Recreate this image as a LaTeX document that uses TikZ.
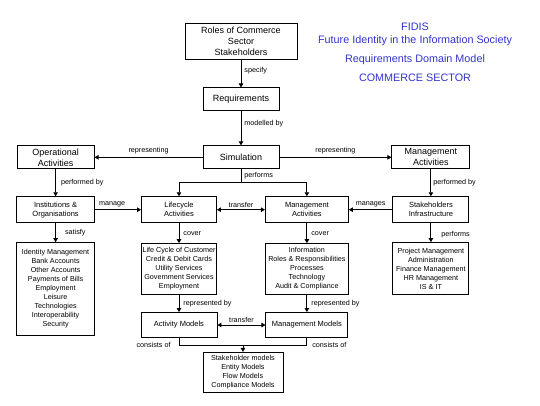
\documentclass[tikz,border=0pt]{standalone}
\usepackage{fontspec}
\setmainfont{Liberation Sans}
\setsansfont{Liberation Sans}
\usetikzlibrary{arrows.meta, positioning, calc}
\definecolor{cTitle}{HTML}{3333CC}
\definecolor{cLine}{HTML}{000000}
\tikzset{
  box/.style={draw=cLine, line width=0.9pt, align=center, inner sep=1pt},
  topbox/.style={box, font=\fontsize{9}{11}\selectfont, minimum height=23pt},
  midbox/.style={box, font=\fontsize{7.5}{9}\selectfont, minimum height=26pt},
  listbox/.style={box, font=\fontsize{7.2}{9}\selectfont},
  modelbox/.style={box, font=\fontsize{7.5}{9}\selectfont, minimum height=25pt},
  flow/.style={-{Triangle[length=4pt, width=4.5pt]}, line width=0.9pt, draw=cLine},
  biflow/.style={{Triangle[length=4pt, width=4.5pt]}-{Triangle[length=4pt, width=4.5pt]},
    line width=0.9pt, draw=cLine},
  plain/.style={line width=0.9pt, draw=cLine},
  lbl/.style={font=\fontsize{7.2}{9}\selectfont, inner sep=1pt},
  titletext/.style={font=\fontsize{10.8}{13}\selectfont, text=cTitle, align=center,
    inner sep=0pt},
}

\begin{document}
\begin{tikzpicture}
  \useasboundingbox (0,0) rectangle (540pt,-405pt);

  % ----------------------------------------------------------------
  % Top column: stakeholders, requirements, simulation
  % ----------------------------------------------------------------
  \node[topbox, minimum width=112pt, minimum height=36pt] (roles) at (241pt,-41pt)
    {Roles of Commerce\\ Sector\\ Stakeholders};
  \node[topbox, minimum width=76pt, below=28pt of roles] (req) {Requirements};
  \node[topbox, minimum width=76pt, below=34pt of req] (sim) {Simulation};

  \draw[flow] (roles) -- (req) node[lbl, pos=0.4, right=2pt] {specify};
  \draw[flow] (req) -- (sim) node[lbl, pos=0.35, right=2pt] {modelled by};

  % ----------------------------------------------------------------
  % Operational / management activities
  % ----------------------------------------------------------------
  \node[topbox, minimum width=77pt, left=108pt of sim] (oper) {Operational\\ Activities};
  \node[topbox, minimum width=78pt, right=112pt of sim] (mact) {Management\\ Activities};

  \draw[flow] (sim) -- (oper) node[lbl, midway, above=2pt] {representing};
  \draw[flow] (sim) -- (mact) node[lbl, midway, above=2pt] {representing};

  % ----------------------------------------------------------------
  % Middle row
  % ----------------------------------------------------------------
  \node[midbox, minimum width=78pt, below=27pt of oper] (inst) {Institutions \&\\ Organisations};
  \node[midbox, minimum width=75pt, right=46pt of inst] (life) {Lifecycle\\ Activities};
  \node[midbox, minimum width=83pt, right=48pt of life] (mgmt) {Management\\ Activities};
  \node[midbox, minimum width=76pt, below=27pt of mact] (stake) {Stakeholders\\ Infrastructure};

  \draw[flow] (oper) -- (inst) node[lbl, midway, right=4pt] {performed by};
  \draw[flow] (mact) -- (stake) node[lbl, midway, right=1pt] {performed by};
  \coordinate (fork) at ($(sim.south)+(0,-13pt)$);
  \draw[plain] (sim.south) -- (fork) node[lbl, midway, right=2pt] {performs};
  \draw[flow] (fork) -| (life.north);
  \draw[flow] (fork) -| (mgmt.north);

  \draw[flow] (inst) -- (life) node[lbl, midway, above=1pt, xshift=-6pt] {manage};
  \draw[biflow] (life) -- (mgmt) node[lbl, midway, above=1pt] {transfer};
  \draw[flow] (stake) -- (mgmt) node[lbl, midway, above=1pt] {manages};

  % ----------------------------------------------------------------
  % Lists
  % ----------------------------------------------------------------
  \node[listbox, minimum width=78pt, minimum height=93pt, below=19pt of inst] (instlist)
    {Identity Management\\ Bank Accounts\\ Other Accounts\\ Payments of Bills\\
     Employment\\ Leisure\\ Technologies\\ Interoperability\\ Security};
  \node[listbox, minimum width=75pt, minimum height=51pt, below=20pt of life] (lifelist)
    {Life Cycle of Customer\\ Credit \& Debit Cards\\ Utility Services\\
     Government Services\\ Employment};
  \node[listbox, minimum width=83pt, minimum height=51pt, below=20pt of mgmt] (mgmtlist)
    {Information\\ Roles \& Responsibilities\\ Processes\\ Technology\\ Audit \& Compliance};
  \node[listbox, minimum width=76pt, minimum height=52pt, below=19pt of stake] (stakelist)
    {Project Management\\ Administration\\ Finance Management\\ HR Management\\ IS \& IT};

  \draw[flow] (inst) -- (instlist) node[lbl, midway, right=8pt] {satisfy};
  \draw[flow] (life) -- (lifelist) node[lbl, midway, right=3pt] {cover};
  \draw[flow] (mgmt) -- (mgmtlist) node[lbl, midway, right=3pt] {cover};
  \draw[flow] (stake) -- (stakelist) node[lbl, pos=0.6, right=9pt] {performs};

  % ----------------------------------------------------------------
  % Models
  % ----------------------------------------------------------------
  \node[modelbox, minimum width=76pt, below=17pt of lifelist] (actm) {Activity Models};
  \node[modelbox, minimum width=82pt, below=17pt of mgmtlist] (mgmtm) {Management Models};

  \draw[flow] (lifelist) -- (actm) node[lbl, midway, right=3pt] {represented by};
  \draw[flow] (mgmtlist) -- (mgmtm) node[lbl, midway, right=3pt] {represented by};
  \draw[biflow] (actm) -- (mgmtm) node[lbl, midway, above=1pt] {transfer};

  \coordinate (cjoin) at ($(actm.south)!0.5!(mgmtm.south)+(0,-7pt)$);
  \draw[plain] (actm.south) |- node[lbl, pos=0.5, left=7pt] {consists of} (cjoin)
    -| node[lbl, pos=0.5, right=4pt] {consists of} (mgmtm.south);
  \node[listbox, minimum width=80pt, minimum height=40pt, below=7pt of cjoin] (compl)
    {Stakeholder models\\ Entity Models\\ Flow Models\\ Compliance Models};
  \draw[flow] (cjoin) -- (compl);

  % ----------------------------------------------------------------
  % Title
  % ----------------------------------------------------------------
  \node[titletext, anchor=north] (title) at (415pt,-23pt)
    {FIDIS\\ Future Identity in the Information Society\\[6pt]
     Requirements Domain Model\\[6pt] COMMERCE SECTOR};

\end{tikzpicture}
\end{document}
